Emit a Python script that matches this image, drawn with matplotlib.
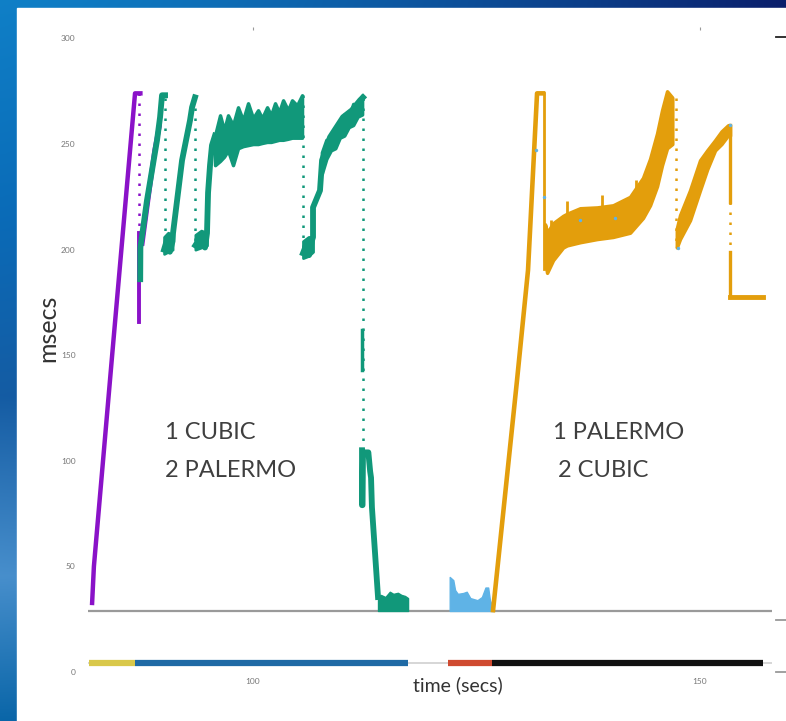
import numpy as np
import matplotlib.pyplot as plt
from matplotlib.patches import Rectangle
from matplotlib.lines import Line2D

plt.rcParams['font.family'] = ['Lato', 'DejaVu Sans']

# ---- data (time in secs, delay in msecs) ----
# flow 1 CUBIC (purple): slow start ramp
purple_t = [82.0, 82.2, 84.2, 86.8, 87.4]
purple_v = [32.7, 50.0, 148.0, 274.0, 274.0]
purple_drop_t = [87.3, 87.3]
purple_drop_v = [274, 208]
purple_tail_t = [87.3, 87.3]
purple_tail_v = [208, 165.6]
purple_ov_t = [87.6, 88.2, 89.0, 89.5]
purple_ov_v = [203, 222, 247, 258]

# flow 2 PALERMO (green)
green_a_t = [87.38, 87.40, 88.14, 89.26, 89.60, 89.82, 90.16]
green_a_v = [186, 201, 223.4, 251.8, 262.7, 273.1, 273.1]
green_b_t = [90.05, 90.4, 90.7, 91.0, 91.05, 92.06, 92.95, 93.18, 93.51]
green_b_v = [200, 205, 199, 204, 207.8, 242.3, 261.2, 267.4, 272.1]
green_c_t = [93.55, 94.07, 94.63, 94.85, 94.97, 95.19, 95.41, 95.75]
green_c_v = [202, 205.4, 201, 207.8, 227, 240, 249.4, 254]
green_low_t = [(90.05, 90.5, 91.0), (93.55, 94.2, 94.85), (105.59, 106.2, 106.71)]
green_low_lo = [(198, 199, 200), (200, 201, 202), (196, 197, 199)]
green_low_hi = [(206, 208, 207), (207, 209, 208), (204, 206, 206)]
green_plat_t = [95.75, 96.31, 96.76, 97.20, 97.76, 98.32, 98.88, 99.44, 100.0, 100.56,
                101.01, 101.57, 102.01, 102.46, 102.91, 103.36, 103.91, 104.36, 104.92, 105.48]
green_plat_hi = [254.1, 263.6, 256.5, 263.6, 258.9, 267.4, 261.2, 269.3, 262.2, 266.0,
                 262.2, 267.4, 263.6, 269.3, 265.0, 270.7, 266.0, 270.7, 268.3, 273.1]
green_plat_lo = [240, 242, 244, 247, 240, 248, 249, 249.5, 250, 250,
                 250.5, 251, 251, 251.5, 252, 252, 252.5, 253, 253, 253]
green_d_t = [105.59, 105.93, 106.26, 106.6, 106.71, 106.71, 107.49, 107.72, 108.61,
             110.07, 111.07, 111.97, 112.3]
green_d_v = [198.3, 202, 197.4, 204.4, 205.9, 220, 228, 242.3, 253.2, 262.7, 266, 270.7, 272.1]
green_rise_t = [107.7, 108.2, 108.7, 109.2, 109.7, 110.2, 110.7, 111.2, 111.7, 112.2]
green_rise_hi = [246, 252, 251, 258, 257, 264, 262, 269, 268, 273]
green_rise_lo = [236, 243, 247, 248, 253, 254, 258, 259, 263, 264]
green_e_t = [112.19, 112.19, 112.25, 112.3, 112.9, 113.1, 113.2, 113.3, 113.98]
green_e_v = [105, 79, 79, 104, 104, 95, 92, 78, 35.5]
green_mid_t = [112.2, 112.2]
green_mid_v = [162, 143]
green_bot_t = [113.98, 114.3, 114.8, 115.3, 115.7, 116.2, 116.6, 117.0, 117.34]
green_bot_hi = [35.5, 36.5, 35.5, 38, 37, 37.5, 36.5, 36, 35]
green_drops_t = [(90.1, 90.1), (93.55, 93.55), (105.55, 105.55), (112.25, 112.25)]
green_drops_v = [(272, 203), (272, 203), (273, 198), (272, 105)]

# flow 2 CUBIC (light blue) before the switch
blue_t = [122.0, 122.4, 122.6, 122.9, 123.5, 123.9, 124.3, 125.1, 125.6, 126.0, 126.3, 126.5, 126.85]
blue_hi = [45, 43.5, 38.8, 37, 37.4, 38, 35, 34, 35.5, 40, 40, 34, 30]
blue_dot_t = [131.6, 132.5, 136.6, 140.5, 147.5, 153.3]
blue_dot_v = [247, 225, 214, 215, 201, 259]

# flow 1 PALERMO (orange)
orange_t = [126.85, 129.53, 130.76, 131.77, 132.44]
orange_v = [29.3, 138.2, 190.3, 274, 274]
orange_dropa_t = [132.5, 132.5]
orange_dropa_v = [274, 191]
orange_band_t = [132.66, 132.89, 133.56, 134.68, 135.12, 136.58, 138.48, 140.27, 142.17,
                 143.62, 144.41, 145.19, 145.75, 146.31, 146.9]
orange_band_lo = [195, 189, 195, 201, 202, 203.5, 205, 206, 208, 215, 221, 230, 240, 248, 250]
orange_band_hi = [212, 208, 212.5, 216, 217, 219.6, 220, 221, 225, 234, 243, 255, 266, 275, 272]
orange_spike_t = [133.3, 135.1, 139.0, 142.8]
orange_spike_lo = [205, 214, 216, 222]
orange_spike_hi = [214, 223, 226, 233]
orange_dropb_t = [147.32, 147.32]
orange_dropb_v = [272, 203]
orange_band2_t = [147.4, 147.76, 148.88, 150.0, 150.8, 151.68, 152.4, 153.13, 153.36]
orange_band2_lo = [201, 205, 213.9, 228.1, 238, 247, 250, 254.1, 254]
orange_band2_hi = [210, 216.3, 228.1, 242.3, 247, 251.8, 256, 258.9, 259]
orange_dropc_t = [153.36, 153.36]
orange_dropc_solid = [(259, 222.5), (199, 177.5)]
orange_dropc_dots = [222.5, 199]
orange_flat_t = [153.36, 157.05]
orange_flat_v = [177.5, 177.5]

# timeline strip at the bottom
tl_level = 4.3
tl_start = [81.6, 86.8, 121.8, 126.7]
tl_end = [86.8, 117.3, 126.7, 157.0]
tl_colors = ['#d9c84a', '#1f6aa5', '#cf4a30', '#111111']

baseline = 28.9
yticks = [0, 50, 100, 150, 200, 250, 300]
xticks = [100, 150]

# ---- figure ----
W, H = 786, 721
fig = plt.figure(figsize=(W / 100, H / 100), dpi=100)

# blue slide background
bg = fig.add_axes([0, 0, 1, 1])
fy = np.linspace(0, 1, 300)
stops = [0, 0.3, 0.55, 0.8, 1.0]
left = np.stack([np.interp(fy, stops, [0.06, 0.04, 0.08, 0.28, 0.04]),
                 np.interp(fy, stops, [0.50, 0.42, 0.36, 0.56, 0.40]),
                 np.interp(fy, stops, [0.78, 0.72, 0.64, 0.80, 0.66])], axis=1)
navy = np.array([0.04, 0.12, 0.42])
wx = np.linspace(0, 1, 400) ** 1.3
img = left[:, None, :] * (1 - wx[None, :, None]) + navy[None, None, :] * wx[None, :, None]
bg.imshow(img, extent=[0, 1, 0, 1], aspect='auto', origin='upper')
bg.add_patch(Rectangle((17 / W, 0), 1, 1 - 8 / H, color='white', transform=bg.transAxes))
bg.set_xlim(0, 1)
bg.set_ylim(0, 1)
bg.axis('off')

ax = fig.add_axes([88 / W, 1 - 672 / H, (772 - 88) / W, (672 - 30) / H])
ax.set_facecolor('none')
ax.set_xlim(81.54, 158.05)
ax.set_ylim(0, 304)

purple = '#8a12c8'
green = '#11987a'
orange = '#e39e0c'
lblue = '#5fb3e6'
dots = (0, (1, 3))

# baseline and timeline
ax.axhline(baseline, color='#9a9a9a', lw=1.6, zorder=1)
ax.axhline(tl_level, color='#cfcfcf', lw=1.2, zorder=1)
for s, e, c in zip(tl_start, tl_end, tl_colors):
    ax.plot([s, e], [tl_level, tl_level], color=c, lw=4.5, solid_capstyle='butt', zorder=2)

# purple
ax.plot(purple_t, purple_v, color=purple, lw=3.2, zorder=3)
ax.plot(purple_drop_t, purple_drop_v, color=purple, lw=1.8, ls=dots, zorder=3)
ax.plot(purple_tail_t, purple_tail_v, color=purple, lw=2.8, zorder=3)
ax.plot(purple_ov_t, purple_ov_v, color=purple, lw=3.5, zorder=3)

# green
for tt, vv in [(green_a_t, green_a_v), (green_b_t, green_b_v), (green_c_t, green_c_v),
               (green_d_t, green_d_v), (green_e_t, green_e_v)]:
    ax.plot(tt, vv, color=green, lw=4.2, zorder=4)
for tt, lo, hi in zip(green_low_t, green_low_lo, green_low_hi):
    ax.fill_between(tt, lo, hi, color=green, lw=2, zorder=4)
ax.plot(green_mid_t, green_mid_v, color=green, lw=2.5, zorder=4)
ax.fill_between(green_plat_t, green_plat_lo, green_plat_hi, color=green, lw=2.5, zorder=4)
ax.fill_between(green_rise_t, green_rise_lo, green_rise_hi, color=green, lw=2.5, zorder=4)
ax.fill_between(green_bot_t, baseline, green_bot_hi, color=green, lw=1, zorder=4)
for tt, vv in zip(green_drops_t, green_drops_v):
    ax.plot(tt, vv, color=green, lw=1.8, ls=dots, zorder=4)

# light blue
ax.fill_between(blue_t, baseline, blue_hi, color=lblue, lw=1, zorder=4)

# orange
ax.plot(orange_t, orange_v, color=orange, lw=3.3, zorder=5)
ax.plot(orange_dropa_t, orange_dropa_v, color=orange, lw=2, zorder=5)
ax.fill_between(orange_band_t, orange_band_lo, orange_band_hi, color=orange, lw=2.5, zorder=5)
ax.vlines(orange_spike_t, orange_spike_lo, orange_spike_hi, color=orange, lw=2, zorder=5)
ax.plot(orange_dropb_t, orange_dropb_v, color=orange, lw=1.8, ls=dots, zorder=5)
ax.fill_between(orange_band2_t, orange_band2_lo, orange_band2_hi, color=orange, lw=2.5, zorder=5)
for a, b in orange_dropc_solid:
    ax.plot(orange_dropc_t, [a, b], color=orange, lw=2.4, zorder=5)
ax.plot(orange_dropc_t, orange_dropc_dots, color=orange, lw=1.8, ls=dots, zorder=5)
ax.plot(orange_flat_t, orange_flat_v, color=orange, lw=3.5, zorder=5)
ax.scatter(blue_dot_t, blue_dot_v, s=6, color=lblue, zorder=6, lw=0)

# annotations
txt = dict(fontsize=17, color='#3f3f3f', ha='left', va='center')
ax.text(90.16, 113.6, '1 CUBIC', **txt)
ax.text(90.16, 95.6, '2 PALERMO', **txt)
ax.text(133.56, 113.6, '1 PALERMO', **txt)
ax.text(134.1, 95.6, '2 CUBIC', **txt)

# axes cosmetics
for sp in ax.spines.values():
    sp.set_visible(False)
ax.set_yticks(yticks)
ax.set_xticks(xticks)
ax.tick_params(axis='y', length=0, pad=9, labelsize=6, labelcolor='#777777')
ax.tick_params(axis='x', length=2, pad=2, labelsize=6, labelcolor='#777777',
               color='#999999', bottom=False, top=True)

fig.text(458 / W, 1 - 685 / H, 'time (secs)', ha='center', va='center',
         fontsize=14, color='#333333')
fig.text(48 / W, 1 - 328 / H, 'msecs', ha='center', va='center', rotation=90,
         fontsize=18, color='#333333')

# small tick stubs on the right edge
for yp, c in [(37, '#222222'), (620, '#999999'), (672, '#999999')]:
    fig.add_artist(Line2D([776 / W, 1], [1 - yp / H] * 2, color=c, lw=1.3))

fig.savefig('out.png', dpi=100)
